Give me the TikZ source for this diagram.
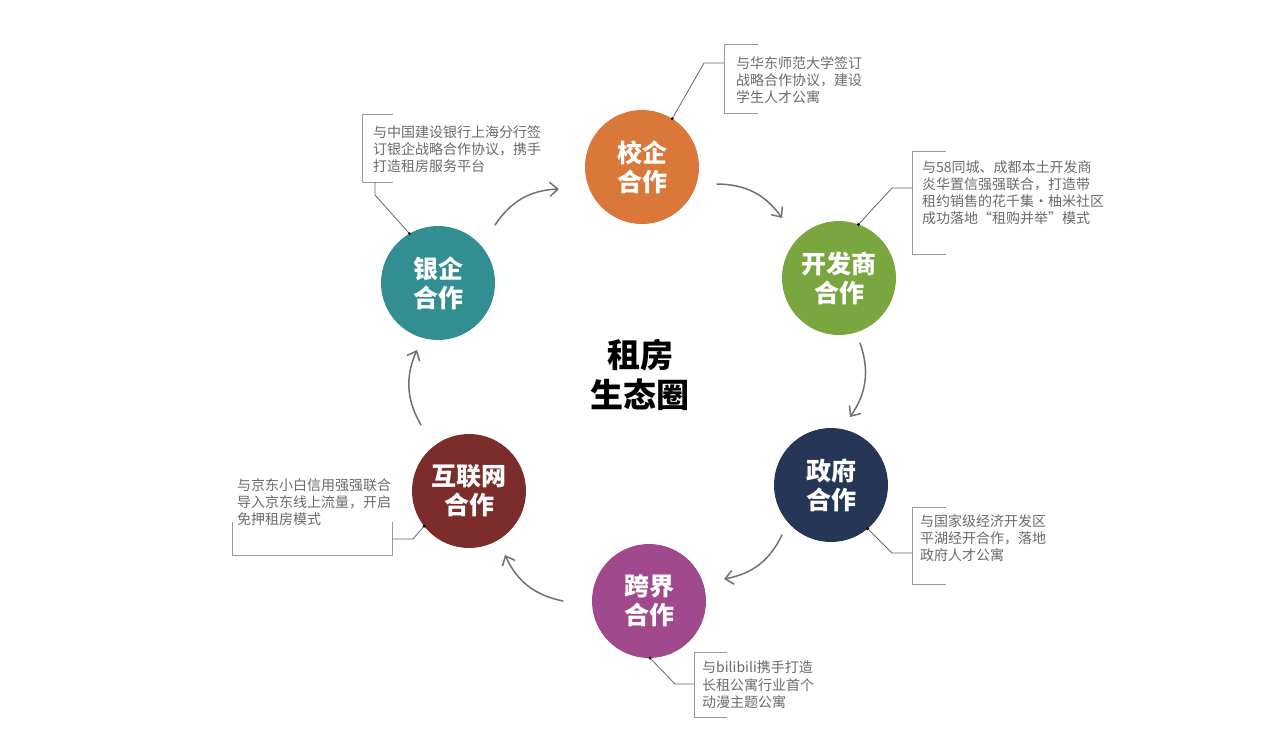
\documentclass[tikz,border=0pt]{standalone}
\usepackage{fontspec}
\setmainfont{Noto Sans CJK SC}
\usetikzlibrary{arrows.meta}
\definecolor{cSchool}{HTML}{D97839}
\definecolor{cDev}{HTML}{7AA640}
\definecolor{cGov}{HTML}{263657}
\definecolor{cCross}{HTML}{A0498C}
\definecolor{cNet}{HTML}{7D2C2C}
\definecolor{cBank}{HTML}{338E92}
\definecolor{cArrow}{HTML}{707070}
\definecolor{cLead}{HTML}{666666}
\definecolor{cBrk}{HTML}{9A9A9A}
\definecolor{cTxt}{HTML}{6A6A6A}
\tikzset{
  circ/.style={circle, minimum size=114pt, inner sep=0pt, outer sep=0pt, text=white,
    font=\fontsize{25}{29}\selectfont\bfseries, align=center},
  flow/.style={draw=cArrow, line width=1.5pt, line cap=round,
    -{Straight Barb[length=8pt,width=14pt]}},
  lead/.style={draw=cLead, line width=0.8pt},
  brk/.style={draw=cBrk, line width=0.9pt},
  note/.style={anchor=north west, inner sep=0pt, align=left, text=cTxt,
    font=\fontsize{14}{17.2}\selectfont},
  dot/.style={fill=black}
}
\begin{document}
\begin{tikzpicture}[x=1pt,y=-1pt]
\useasboundingbox (0,0) rectangle (1270,745);
% circles
\node[circ, fill=cSchool] (school) at (642,167) {校企\\合作};
\node[circ, fill=cDev] (dev) at (839,278) {开发商\\合作};
\node[circ, fill=cGov] (gov) at (831,485) {政府\\合作};
\node[circ, fill=cCross] (cross) at (649,601) {跨界\\合作};
\node[circ, fill=cNet] (net) at (469,491) {互联网\\合作};
\node[circ, fill=cBank] (bank) at (438,283) {银企\\合作};
% center
\node[align=center, font=\fontsize{33}{40}\selectfont\bfseries] (center) at (640,375) {租房\\生态圈};
% arrows
\coordinate (a1s) at (495,225); \coordinate (a1e) at (559,189);
\coordinate (a2s) at (717,184); \coordinate (a2e) at (782,218);
\coordinate (a3s) at (860,343); \coordinate (a3e) at (850,417);
\coordinate (a4s) at (782,535); \coordinate (a4e) at (724,579);
\coordinate (a5s) at (563,601); \coordinate (a5e) at (505,555);
\coordinate (a6s) at (421,425); \coordinate (a6e) at (417,350);
\draw[flow] (a1s) to[bend left=27] (a1e);
\draw[flow] (a2s) to[bend left=27] (a2e);
\draw[flow] (a3s) to[bend left=27] (a3e);
\draw[flow] (a4s) to[bend left=27] (a4e);
\draw[flow] (a5s) to[bend left=27] (a5e);
\draw[flow] (a6s) to[bend left=27] (a6e);
% school callout
\draw[brk] (758,44) -- (724,44) -- (724,113) -- (758,113);
\coordinate (l1) at (724,63);
\draw[lead] (school.58) -- (704,63) -- (l1);
\fill[dot] (school.58) circle (1.6pt);
\node[note] (t1) at (736,56) {与华东师范大学签订\\战略合作协议，建设\\学生人才公寓};
% developer callout
\draw[brk] (946,151) -- (912,151) -- (912,254) -- (946,254);
\coordinate (l2) at (912,188);
\draw[lead] (dev.70) -- (892,188) -- (l2);
\fill[dot] (dev.70) circle (1.6pt);
\node[note] (t2) at (922,160) {与58同城、成都本土开发商\\炎华置信强强联合，打造带\\租约销售的花千集·柚米社区\\成功落地“租购并举”模式};
% bank callout
\draw[brk] (393,114) -- (362,114) -- (362,182) -- (393,182);
\coordinate (l6) at (375,182);
\draw[lead] (bank.120) -- (375,195) -- (l6);
\fill[dot] (bank.120) circle (1.6pt);
\node[note] (t6) at (373,125) {与中国建设银行上海分行签\\订银企战略合作协议，携手\\打造租房服务平台};
% gov callout
\draw[brk] (946,507) -- (912,507) -- (912,584) -- (946,584);
\coordinate (l3) at (912,553);
\draw[lead] (gov.-50) -- (892,553) -- (l3);
\fill[dot] (gov.-50) circle (1.6pt);
\node[note] (t3) at (920,514) {与国家级经济开发区\\平湖经开合作，落地\\政府人才公寓};
% cross callout
\draw[brk] (727,652) -- (694,652) -- (694,717) -- (727,717);
\coordinate (l4) at (694,684);
\draw[lead] (cross.-89) -- (675,684) -- (l4);
\fill[dot] (cross.-89) circle (1.6pt);
\node[note] (t4) at (702,661) {与bilibili携手打造\\长租公寓行业首个\\动漫主题公寓};
% internet callout
\draw[brk] (232,522) -- (232,555) -- (392,555) -- (392,522);
\coordinate (l5) at (392,539);
\draw[lead] (net.-142) -- (413,539) -- (l5);
\fill[dot] (net.-142) circle (1.6pt);
\node[note] (t5) at (237,478) {与京东小白信用强强联合\\导入京东线上流量，开启\\免押租房模式};
\end{tikzpicture}
\end{document}
